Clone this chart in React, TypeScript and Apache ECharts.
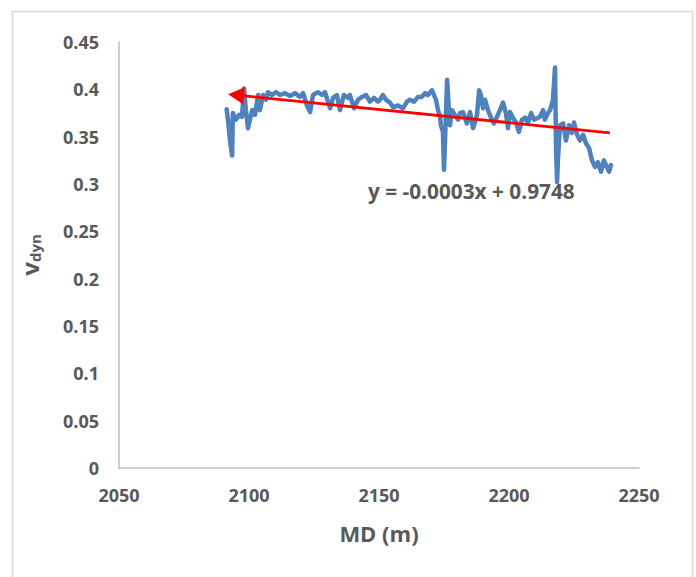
import React, { useEffect, useRef } from "react";
import * as echarts from "echarts";

const mdValues = [
  2091.4, 2091.9, 2092.7, 2093.5, 2093.8, 2095.0, 2096.2, 2097.3, 2098.1, 2098.8,
  2099.6, 2101.2, 2102.3, 2103.5, 2104.2, 2105.4, 2106.5, 2107.3, 2108.8, 2110.4,
  2111.9, 2113.8, 2115.8, 2117.7, 2119.6, 2120.8, 2122.3, 2123.5, 2124.6, 2126.5,
  2128.1, 2129.2, 2131.2, 2132.3, 2133.8, 2135.0, 2136.5, 2138.1, 2138.8, 2140.4,
  2141.9, 2143.5, 2145.0, 2146.5, 2148.1, 2149.6, 2150.4, 2151.5, 2152.7, 2154.2,
  2155.4, 2157.3, 2159.2, 2160.8, 2161.9, 2163.5, 2165.0, 2166.5, 2167.7, 2168.8,
  2170.4, 2171.9, 2172.7, 2173.5, 2173.8, 2174.6, 2175.0, 2175.4, 2176.2, 2176.9,
  2177.3, 2178.1, 2179.2, 2180.4, 2181.2, 2182.3, 2183.8, 2185.0, 2186.2, 2187.7,
  2188.5, 2189.2, 2190.0, 2190.8, 2191.9, 2193.1, 2194.2, 2195.4, 2196.5, 2197.7,
  2198.8, 2199.6, 2200.4, 2201.5, 2202.7, 2203.8, 2205.0, 2206.2, 2207.3, 2208.5,
  2209.6, 2211.2, 2211.9, 2213.1, 2213.8, 2215.0, 2215.8, 2216.9, 2217.7, 2218.1,
  2218.5, 2218.8, 2219.6, 2220.8, 2221.9, 2223.1, 2224.2, 2225.0, 2226.2, 2227.3,
  2228.5, 2229.6, 2230.8, 2231.9, 2233.1, 2234.2, 2235.4, 2236.5, 2237.3, 2238.5,
  2239.2,
];
const vdynValues = [
  0.379, 0.368, 0.346, 0.330, 0.375, 0.368, 0.373, 0.371, 0.401, 0.378,
  0.359, 0.378, 0.373, 0.394, 0.378, 0.394, 0.389, 0.397, 0.394, 0.397,
  0.394, 0.396, 0.393, 0.396, 0.392, 0.396, 0.383, 0.376, 0.394, 0.397,
  0.394, 0.397, 0.380, 0.391, 0.394, 0.378, 0.394, 0.391, 0.394, 0.380,
  0.389, 0.392, 0.394, 0.387, 0.391, 0.387, 0.389, 0.394, 0.389, 0.386,
  0.381, 0.383, 0.380, 0.387, 0.389, 0.387, 0.392, 0.392, 0.396, 0.394,
  0.399, 0.389, 0.378, 0.371, 0.362, 0.355, 0.315, 0.346, 0.410, 0.378,
  0.362, 0.378, 0.373, 0.368, 0.375, 0.376, 0.364, 0.376, 0.359, 0.373,
  0.399, 0.394, 0.380, 0.389, 0.378, 0.370, 0.364, 0.371, 0.378, 0.386,
  0.375, 0.359, 0.376, 0.370, 0.365, 0.355, 0.368, 0.370, 0.365, 0.375,
  0.368, 0.370, 0.371, 0.378, 0.368, 0.375, 0.378, 0.389, 0.423, 0.336,
  0.302, 0.325, 0.362, 0.364, 0.346, 0.362, 0.354, 0.365, 0.352, 0.346,
  0.352, 0.343, 0.338, 0.325, 0.318, 0.323, 0.313, 0.325, 0.320, 0.313,
  0.320,
];

// Trend line (drawn arrow) endpoints
const trendX = [2095.0, 2238.8];
const trendY = [0.394, 0.354];
const trendLabel = "y = -0.0003x + 0.9748";

const xTicks = [2050, 2100, 2150, 2200, 2250];
const yTicks = [0, 0.05, 0.1, 0.15, 0.2, 0.25, 0.3, 0.35, 0.4, 0.45];

const FONT = "'Open Sans', sans-serif";
const GREY = "#595959";

export default function App() {
  const ref = useRef<HTMLDivElement>(null);
  useEffect(() => {
    if (!ref.current) return;
    const chart = echarts.init(ref.current, null, { renderer: "svg" });
    const data = mdValues.map((x, i) => [x, vdynValues[i]]);
    chart.setOption({
      animation: false,
      backgroundColor: "#ffffff",
      textStyle: { fontFamily: FONT },
      grid: { left: 119, right: 57, top: 42, bottom: 109, containLabel: false },
      xAxis: {
        type: "value",
        min: xTicks[0],
        max: xTicks[xTicks.length - 1],
        interval: 50,
        name: "MD (m)",
        nameLocation: "middle",
        nameGap: 54,
        nameTextStyle: { fontFamily: FONT, fontWeight: "bold", fontSize: 22, color: GREY },
        axisLine: { show: true, lineStyle: { color: "#bfbfbf", width: 1.5 } },
        axisTick: { show: false },
        splitLine: { show: false },
        axisLabel: {
          fontFamily: FONT,
          fontWeight: "bold",
          fontSize: 18,
          color: GREY,
          margin: 18,
          formatter: (v: number) => String(v),
        },
      },
      yAxis: {
        type: "value",
        min: yTicks[0],
        max: yTicks[yTicks.length - 1],
        interval: 0.05,
        name: "{v|v}{s|dyn}",
        nameLocation: "middle",
        nameRotate: 90,
        nameGap: 76,
        nameTextStyle: {
          rich: {
            v: { fontFamily: FONT, fontWeight: "bold", fontSize: 24, color: GREY, lineHeight: 28 },
            s: { fontFamily: FONT, fontWeight: "bold", fontSize: 15, color: GREY, lineHeight: 28, padding: [12, 0, 0, 0] },
          },
        },
        axisLine: { show: true, lineStyle: { color: "#bfbfbf", width: 1.5 } },
        axisTick: { show: false },
        splitLine: { show: false },
        axisLabel: {
          fontFamily: FONT,
          fontWeight: "bold",
          fontSize: 18,
          color: GREY,
          margin: 20,
          formatter: (v: number) => String(Math.round(v * 100) / 100),
        },
      },
      graphic: [
        {
          type: "rect",
          shape: { x: 12.5, y: 11.5, width: 680, height: 600 },
          style: { fill: "none", stroke: "#d9d9d9", lineWidth: 1.5 },
          silent: true,
        },
        {
          type: "text",
          left: 368,
          top: 180,
          style: { text: trendLabel, fontFamily: FONT, fontWeight: "bold", fontSize: 20.8, fill: GREY },
        },
      ],
      series: [
        {
          type: "line",
          data,
          showSymbol: false,
          symbol: "none",
          lineStyle: { color: "#4f81bd", width: 4.5, join: "round", cap: "round" },
          z: 2,
        },
        {
          type: "line",
          data: [],
          markLine: {
            silent: true,
            symbol: ["triangle", "none"],
            symbolSize: [17, 16],
            label: { show: false },
            lineStyle: { color: "#ff0000", width: 2.8, type: "solid" },
            data: [[
              { coord: [trendX[0], trendY[0]] },
              { coord: [trendX[1], trendY[1]] },
            ]],
          },
          z: 3,
        },
      ],
    });
    return () => chart.dispose();
  }, []);
  return (
    <div
      ref={ref}
      style={{ position: "fixed", left: 0, top: 0, width: 696, height: 577 }}
    />
  );
}
